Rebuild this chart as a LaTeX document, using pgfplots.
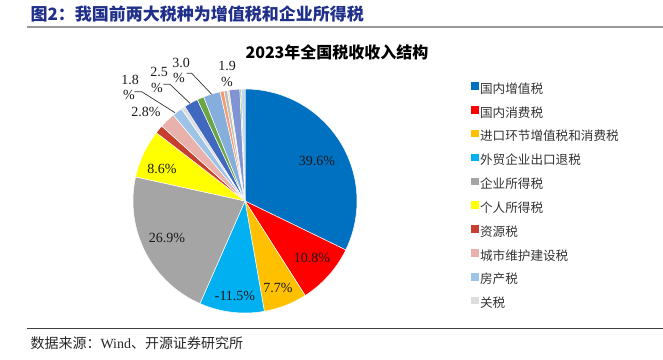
\documentclass[border=0pt]{standalone}
\usepackage{pgfplots}
\pgfplotsset{compat=1.18}
\usepackage{fontspec}
\setmainfont{Liberation Serif}
\newfontfamily\cjk{Noto Sans CJK SC}
\definecolor{cVAT}{HTML}{0070C0}
\definecolor{cCons}{HTML}{FF0000}
\definecolor{cImp}{HTML}{FFC000}
\definecolor{cRef}{HTML}{00B0F0}
\definecolor{cCIT}{HTML}{A5A5A5}
\definecolor{cPIT}{HTML}{FFFF00}
\definecolor{cRes}{HTML}{C7402F}
\definecolor{cCity}{HTML}{E9B1AB}
\definecolor{cHouse}{HTML}{9DC3E6}
\definecolor{cTar}{HTML}{DDDDDD}
\definecolor{cO1}{HTML}{4068BE}
\definecolor{cO2}{HTML}{6AA646}
\definecolor{cO3}{HTML}{86AEDD}
\definecolor{cO4}{HTML}{F29D75}
\definecolor{cO5}{HTML}{BDBDBD}
\definecolor{cO6}{HTML}{F5E3A0}
\definecolor{cO7}{HTML}{8094D4}
\definecolor{cO8}{HTML}{A5CC8C}
\definecolor{cO9}{HTML}{BCD5EE}
\definecolor{navy}{HTML}{20308A}
\begin{document}
\begin{tikzpicture}
\useasboundingbox (0,0) rectangle (663pt,359pt);
\begin{axis}[at={(0,0)}, anchor=south west, x=1pt, y=1pt,
  xmin=0, xmax=663, ymin=0, ymax=359, y dir=reverse,
  hide axis, clip=false,
  legend style={at={(axis cs:471,82)}, anchor=north west, draw=none, fill=none,
    font=\cjk\fontsize{12.6}{13}\selectfont, text=black!80,
    row sep=10.4pt, inner sep=0pt, column sep=2pt,
    nodes={inner sep=0pt, text height=9pt, text depth=2.5pt}},
  legend cell align=left]
% pie slices: values are % shares (absolute), total 123
\gdef\curang{270}
\foreach \v/\cl in {39.6/cVAT, 10.8/cCons, 7.7/cImp, 11.5/cRef, 26.9/cCIT, 8.6/cPIT,
  1.5/cRes, 2.8/cCity, 1.8/cHouse, 0.7/cTar, 2.5/cO1, 1.2/cO2, 3.0/cO3, 0.7/cO4,
  0.6/cO5, 0.3/cO6, 1.9/cO7, 0.3/cO8, 0.6/cO9}{%
  \pgfmathsetmacro\angA{\curang}%
  \pgfmathsetmacro\angB{\curang+\v*360/123}%
  \pgfmathtruncatemacro\nseg{max(2,ceil((\angB-\angA)/1.5))}%
  \xdef\coords{(245,201)}%
  \foreach \k in {0,...,\nseg}{%
    \pgfmathsetmacro\tt{\angA+(\angB-\angA)*\k/\nseg}%
    \pgfmathsetmacro\px{245+112*cos(\tt)}%
    \pgfmathsetmacro\py{201+112*sin(\tt)}%
    \xdef\coords{\coords (\px,\py)}%
  }%
  \edef\temp{\noexpand\addplot[forget plot, fill=\cl, draw=white, line width=0.5pt] coordinates {\coords (245,201)};}%
  \temp
  \xdef\curang{\angB}%
}
% rules
\addplot[forget plot, draw=gray!80, line width=1.5pt] coordinates {(27,27) (663,27)};
\addplot[forget plot, draw=black!75, line width=0.8pt] coordinates {(27,328) (663,328)};
% leader lines
\addplot[forget plot, draw=black!80, line width=0.7pt] coordinates {(134.3,91.7) (141.7,91.7) (175,112.7)};
\addplot[forget plot, draw=black!80, line width=0.7pt] coordinates {(163.3,84.3) (170,84.3) (190,103.3)};
\addplot[forget plot, draw=black!80, line width=0.7pt] coordinates {(186.7,73.3) (191.7,73.3) (211.7,94.3)};
% legend
\addlegendimage{legend image code/.code={\fill[cVAT] (0pt,1pt) rectangle (6.5pt,7.5pt);}}
\addlegendentry{国内增值税}
\addlegendimage{legend image code/.code={\fill[cCons] (0pt,1pt) rectangle (6.5pt,7.5pt);}}
\addlegendentry{国内消费税}
\addlegendimage{legend image code/.code={\fill[cImp] (0pt,1pt) rectangle (6.5pt,7.5pt);}}
\addlegendentry{进口环节增值税和消费税}
\addlegendimage{legend image code/.code={\fill[cRef] (0pt,1pt) rectangle (6.5pt,7.5pt);}}
\addlegendentry{外贸企业出口退税}
\addlegendimage{legend image code/.code={\fill[cCIT] (0pt,1pt) rectangle (6.5pt,7.5pt);}}
\addlegendentry{企业所得税}
\addlegendimage{legend image code/.code={\fill[cPIT] (0pt,1pt) rectangle (6.5pt,7.5pt);}}
\addlegendentry{个人所得税}
\addlegendimage{legend image code/.code={\fill[cRes] (0pt,1pt) rectangle (6.5pt,7.5pt);}}
\addlegendentry{资源税}
\addlegendimage{legend image code/.code={\fill[cCity] (0pt,1pt) rectangle (6.5pt,7.5pt);}}
\addlegendentry{城市维护建设税}
\addlegendimage{legend image code/.code={\fill[cHouse] (0pt,1pt) rectangle (6.5pt,7.5pt);}}
\addlegendentry{房产税}
\addlegendimage{legend image code/.code={\fill[cTar] (0pt,1pt) rectangle (6.5pt,7.5pt);}}
\addlegendentry{关税}
% texts
\node[anchor=west, font=\cjk\bfseries\fontsize{17}{19}\selectfont, text=navy] at (axis cs:27,14) {图2：我国前两大税种为增值税和企业所得税};
\node[font=\cjk\bfseries\fontsize{16}{18}\selectfont, text=black] at (axis cs:337,52) {2023年全国税收收入结构};
\node[anchor=west, font=\fontsize{14}{16}\selectfont, text=black!85] at (axis cs:27,343) {{\cjk 数据来源：}Wind{\cjk 、开源证券研究所}};
\tikzset{lab/.style={font=\fontsize{14}{15}\selectfont, text=black!90, inner sep=0pt}}
\node[lab] at (axis cs:317,161) {39.6\%};
\node[lab] at (axis cs:312,258) {10.8\%};
\node[lab] at (axis cs:278,288) {7.7\%};
\node[lab] at (axis cs:235,296) {-11.5\%};
\node[lab] at (axis cs:167,238) {26.9\%};
\node[lab] at (axis cs:162,169) {8.6\%};
\node[lab] at (axis cs:146,112) {2.8\%};
\node[lab] at (axis cs:130,80) {1.8};
\node[lab] at (axis cs:129,95) {\%};
\node[lab] at (axis cs:159,72) {2.5};
\node[lab] at (axis cs:157,88) {\%};
\node[lab] at (axis cs:181,63) {3.0};
\node[lab] at (axis cs:179,78) {\%};
\node[lab] at (axis cs:227,66) {1.9};
\node[lab] at (axis cs:227,82) {\%};
\end{axis}
\end{tikzpicture}
\end{document}
